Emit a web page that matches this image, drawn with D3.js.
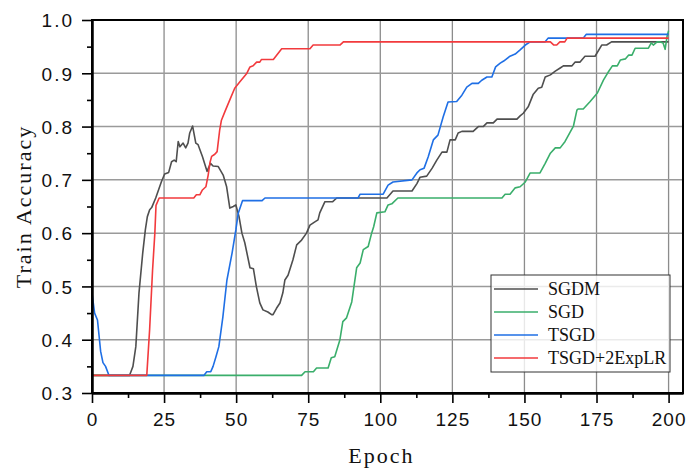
<!DOCTYPE html>
<html>
<head>
<meta charset="utf-8">
<script src="https://cdn.jsdelivr.net/npm/d3@7"></script>
<style>
  body { margin: 0; background: #fff; }
  svg { display: block; font-family: "Liberation Serif", "DejaVu Serif", serif; }
  .axis text { font-size: 19px; fill: #111; letter-spacing: 2px; }
  .xaxis text { letter-spacing: 1px; }
  .axis path, .axis line { stroke: #000; }
  .label { font-size: 22px; fill: #111; letter-spacing: 2px; }
  .legend text { font-size: 18px; fill: #111; }
</style>
</head>
<body>
<svg id="chart"></svg>
<script>
// series names and colours
var seriesNames = ["SGDM", "SGD", "TSGD", "TSGD+2ExpLR"];
var seriesColors = ["#4f4f4f", "#3aae6b", "#1f6fe5", "#f23a3d"];

// [epoch, train accuracy]
var sgdm = [[0,0.333],[13,0.333],[13.5,0.340],[14.2,0.35],[15.2,0.387],[16.3,0.488],[17.6,0.563],[18.5,0.606],
  [19.2,0.631],[20,0.644],[20.7,0.648],[22.1,0.666],[24.1,0.697],[25.2,0.711],[26.6,0.714],[27.6,0.734],
  [28.5,0.737],[29.2,0.734],[29.9,0.772],[30.5,0.762],[31.6,0.769],[32.5,0.760],[33.3,0.769],[33.9,0.788],
  [34.9,0.801],[36,0.769],[36.8,0.766],[38.3,0.744],[39.9,0.716],[41.1,0.731],[42,0.726],[43.8,0.725],
  [45.5,0.709],[46.7,0.687],[47.8,0.647],[49,0.65],[49.9,0.653],[51,0.631],[52,0.6],[53,0.582],
  [54.8,0.535],[56,0.533],[57,0.5],[58.2,0.469],[59.3,0.456],[61,0.452],[62.3,0.447],[62.8,0.447],
  [64,0.459],[65.2,0.469],[66.2,0.488],[66.9,0.512],[68,0.521],[69.7,0.55],[71,0.578],[72.7,0.587],
  [74.4,0.6],[75.6,0.615],[77.3,0.621],[78.4,0.625],[79,0.638],[80.8,0.659],[83.5,0.659],[84.9,0.666],
  [102.3,0.666],[104.4,0.679],[111,0.679],[112.7,0.693],[113.8,0.705],[116.1,0.707],[118,0.722],
  [119.6,0.737],[121.4,0.752],[123.1,0.752],[124.2,0.775],[126,0.775],[127,0.788],[128.3,0.791],
  [132.2,0.791],[134,0.8],[135.7,0.8],[137,0.807],[139.2,0.807],[140.5,0.814],[147.4,0.814],[148.5,0.82],
  [149.6,0.825],[151.3,0.837],[153,0.86],[154.8,0.872],[156,0.874],[157.2,0.893],[159,0.897],[160.7,0.904],
  [162.4,0.910],[163.5,0.914],[166.5,0.914],[167.6,0.921],[169.3,0.921],[171,0.932],[174.5,0.932],
  [176.8,0.953],[178.5,0.953],[180.2,0.959],[200,0.959]];

var sgd = [[0,0.333],[72.7,0.333],[73.9,0.34],[76.8,0.34],[77.9,0.347],[81.9,0.347],[83,0.366],[84.2,0.368],
  [86,0.4],[87,0.434],[88.3,0.441],[90.1,0.471],[91.8,0.535],[93,0.544],[94.1,0.569],[95.8,0.575],[97,0.6],
  [97.7,0.612],[98.8,0.638],[101.6,0.64],[102.7,0.653],[104,0.655],[106.1,0.666],[142.2,0.666],[143.3,0.673],
  [145,0.673],[146.8,0.685],[148.5,0.687],[150.3,0.696],[152,0.713],[155.4,0.713],[157.2,0.731],[159,0.75],
  [160.7,0.76],[162.4,0.76],[164.1,0.772],[165.9,0.79],[167,0.801],[168.2,0.831],[168.6,0.833],[170.4,0.833],
  [172.8,0.847],[175.3,0.863],[177.4,0.887],[178.8,0.9],[180.5,0.914],[182.2,0.914],[183.3,0.925],[185,0.927],
  [186.1,0.934],[187.3,0.934],[188.4,0.947],[193,0.947],[194,0.957],[194.7,0.953],[196,0.959],[197,0.959],
  [198.1,0.957],[198.8,0.945],[199.5,0.97],[200,0.98]];

var tsgd = [[0,0.4875],[0.9,0.45],[1.9,0.437],[3,0.378],[3.8,0.357],[4.7,0.35],[5.9,0.333],[38.8,0.333],
  [39.8,0.34],[41.2,0.34],[42,0.35],[43,0.368],[44,0.387],[45.4,0.443],[46.8,0.512],[48.6,0.563],[49.9,0.606],
  [50.7,0.637],[52.2,0.661],[59,0.661],[60,0.666],[92.3,0.666],[93,0.673],[101,0.673],[102.7,0.69],
  [104.4,0.696],[111,0.7],[112.7,0.713],[113.8,0.719],[115.2,0.722],[116.6,0.743],[118.4,0.775],[120,0.784],
  [121.8,0.818],[123.5,0.846],[126.5,0.847],[128.3,0.859],[130,0.874],[131.8,0.881],[134,0.881],[135.2,0.887],
  [137,0.893],[138.7,0.893],[140,0.912],[141.6,0.919],[142.8,0.923],[145,0.932],[146.8,0.936],[148.5,0.944],
  [150.3,0.953],[152,0.959],[157.2,0.959],[158.2,0.966],[170.4,0.966],[171.4,0.973],[200,0.973]];

var tsgdExp = [[0,0.333],[19,0.333],[20,0.42],[21,0.53],[21.8,0.6],[22.2,0.652],[23.3,0.666],[35.3,0.666],
  [36.2,0.672],[37.4,0.672],[38.3,0.681],[39.5,0.687],[40.3,0.709],[40.9,0.732],[41.5,0.744],[42.6,0.748],
  [43.4,0.753],[44.3,0.794],[44.9,0.812],[46.1,0.828],[47.8,0.850],[49.5,0.872],[51.3,0.884],[53.6,0.899],
  [54.8,0.912],[55.9,0.914],[57.1,0.921],[58.2,0.921],[58.8,0.926],[62.9,0.926],[65.8,0.946],[75.6,0.946],
  [76.7,0.953],[86,0.953],[87.2,0.959],[159,0.959],[160.2,0.953],[161.2,0.953],[162.3,0.959],[164,0.959],
  [164.8,0.966],[200,0.966]];

var allSeries = [sgdm, sgd, tsgd, tsgdExp];

// tick values
var xTicks = [0, 25, 50, 75, 100, 125, 150, 175, 200];
var xMinorTicks = [12.5, 37.5, 62.5, 87.5, 112.5, 137.5, 162.5, 187.5];
var yTicks = [0.3, 0.4, 0.5, 0.6, 0.7, 0.8, 0.9, 1.0];
var yMinorTicks = [0.35, 0.45, 0.55, 0.65, 0.75, 0.85, 0.95];

var screen = { width: 686, height: 469 };
var margins = { top: 20, bottom: 76, left: 92, right: 3 };
var graph = {
  width: screen.width - margins.left - margins.right,
  height: screen.height - margins.top - margins.bottom
};

var svg = d3.select("#chart").attr("width", screen.width).attr("height", screen.height);
svg.append("rect").attr("width", screen.width).attr("height", screen.height).attr("fill", "#fff");

var xScale = d3.scaleLinear().domain([0, 205]).range([0, graph.width]);
var yScale = d3.scaleLinear().domain([0.3, 1.0]).range([graph.height, 0]);

var g = svg.append("g")
  .attr("transform", "translate(" + margins.left + "," + margins.top + ")");

// grid
var grid = g.append("g").classed("grid", true);
grid.selectAll("line.vx").data(xTicks).enter().append("line")
  .attr("x1", function (d) { return xScale(d); })
  .attr("x2", function (d) { return xScale(d); })
  .attr("y1", 0).attr("y2", graph.height)
  .attr("stroke", "#8c8c8c").attr("stroke-width", 1.3);
grid.selectAll("line.hy").data(yTicks).enter().append("line")
  .attr("x1", 0).attr("x2", graph.width)
  .attr("y1", function (d) { return yScale(d); })
  .attr("y2", function (d) { return yScale(d); })
  .attr("stroke", "#9a9a9a").attr("stroke-width", 1.5);

// lines
var line = d3.line()
  .x(function (d) { return xScale(d[0]); })
  .y(function (d) { return yScale(d[1]); });

g.selectAll("path.series").data(allSeries).enter().append("path")
  .classed("series", true)
  .attr("d", line)
  .attr("fill", "none")
  .attr("stroke", function (d, i) { return seriesColors[i]; })
  .attr("stroke-width", 1.6)
  .attr("stroke-linejoin", "round");

// frame
g.append("rect")
  .attr("width", graph.width).attr("height", graph.height)
  .attr("fill", "none").attr("stroke", "#000").attr("stroke-width", 2);

// axes
var xAxis = d3.axisBottom(xScale).tickValues(xTicks).tickSize(10).tickPadding(10).tickSizeOuter(0);
var xMinor = d3.axisBottom(xScale).tickValues(xMinorTicks).tickSize(5).tickFormat("").tickSizeOuter(0);
var yAxis = d3.axisLeft(yScale).tickValues(yTicks).tickSize(10).tickPadding(8)
  .tickFormat(d3.format(".1f")).tickSizeOuter(0);
var yMinor = d3.axisLeft(yScale).tickValues(yMinorTicks).tickSize(5).tickFormat("").tickSizeOuter(0);

var xg = g.append("g").classed("axis", true).classed("xaxis", true)
  .attr("transform", "translate(0," + graph.height + ")").call(xAxis);
g.append("g").classed("axis", true)
  .attr("transform", "translate(0," + graph.height + ")").call(xMinor);
var yg = g.append("g").classed("axis", true).call(yAxis);
g.append("g").classed("axis", true).call(yMinor);
g.selectAll(".axis path").attr("stroke-width", 2);
g.selectAll(".axis line").attr("stroke-width", 1.6);
yg.selectAll("text").attr("dy", "0.36em");

// labels
svg.append("text").classed("label", true)
  .attr("text-anchor", "middle")
  .attr("x", margins.left + xScale(100) + 1)
  .attr("y", 463)
  .text("Epoch");

svg.append("g")
  .attr("transform", "translate(31," + (margins.top + graph.height / 2) + ")")
  .append("text").classed("label", true)
  .attr("text-anchor", "middle")
  .attr("transform", "rotate(-90)")
  .text("Train Accuracy");

// legend
var legend = svg.append("g").classed("legend", true)
  .attr("transform", "translate(491,275)");
legend.append("rect")
  .attr("width", 179).attr("height", 97)
  .attr("fill", "rgba(255,255,255,0.8)")
  .attr("stroke", "#333").attr("stroke-width", 1);
var rows = legend.selectAll("g.row").data(seriesNames).enter().append("g")
  .attr("transform", function (d, i) { return "translate(0," + (14 + i * 23) + ")"; });
rows.append("line")
  .attr("x1", 3).attr("x2", 47)
  .attr("stroke", function (d, i) { return seriesColors[i]; })
  .attr("stroke-width", 1.6);
rows.append("text")
  .attr("x", 57).attr("dy", "0.35em")
  .text(function (d) { return d; });
</script>
</body>
</html>
